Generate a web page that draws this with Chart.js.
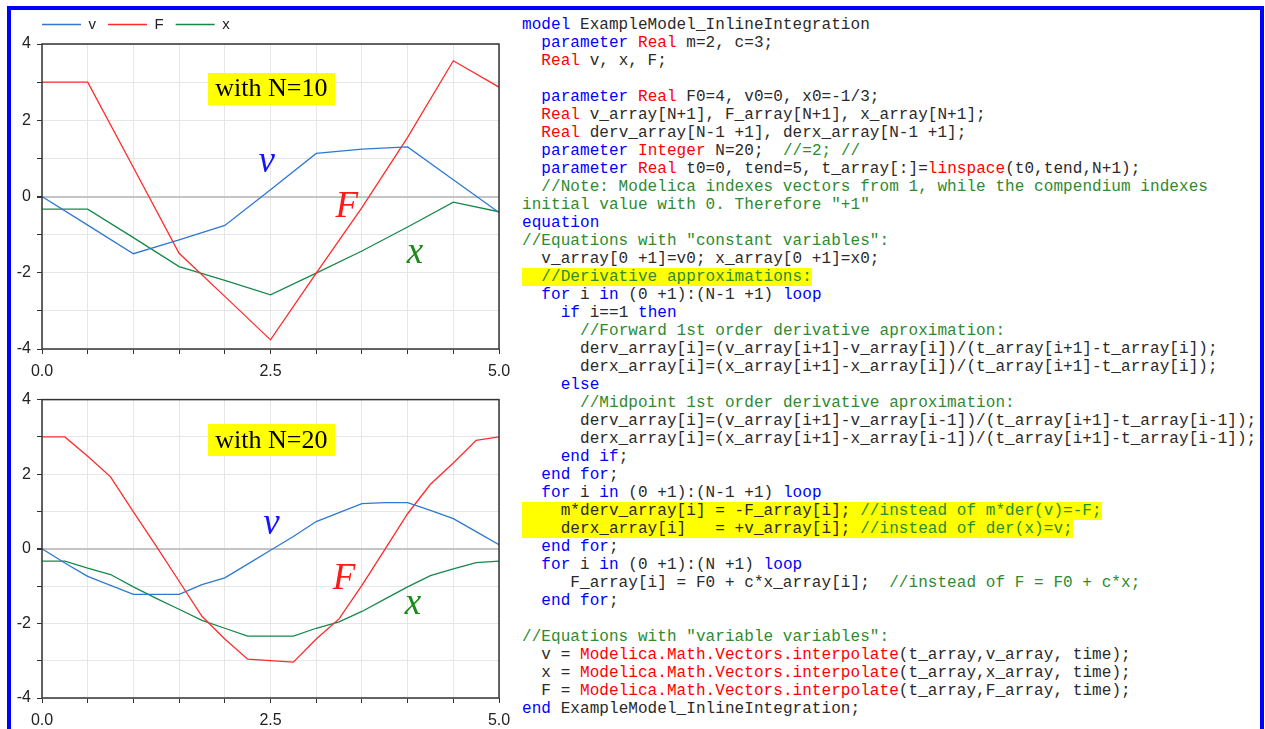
<!DOCTYPE html>
<html>
<head>
<meta charset="utf-8">
<script src="https://cdn.jsdelivr.net/npm/chart.js@4/dist/chart.umd.min.js"></script>
<style>
  html, body { margin: 0; padding: 0; background: #fff; width: 1265px; height: 729px; overflow: hidden; }
  #frame { position: absolute; left: 7px; top: 6px; width: 1257px; height: 760px; box-sizing: border-box;
           border: 4px solid #0000ff; border-bottom: none; z-index: 5; pointer-events: none; }
  #c10 { position: absolute; left: 0; top: 5px; }
  #c20 { position: absolute; left: 0; top: 384px; }
  #code { position: absolute; left: 522px; top: 16px; margin: 0; white-space: pre; letter-spacing: 0.06px;
          font-family: "Liberation Mono", "Courier New", monospace; font-size: 16px; line-height: 18px; color: #2a2a2a; }
  .k { color: #0000ff; }
  .t { color: #ff0000; }
  .c { color: #2e8b2e; }
  .h { background: #ffff00; }
</style>
</head>
<body>
<div id="frame"></div>
<canvas id="c10" width="522" height="374"></canvas>
<canvas id="c20" width="522" height="344"></canvas>
<pre id="code"><span class="k">model</span> ExampleModel_InlineIntegration
  <span class="k">parameter</span> <span class="t">Real</span> m=2, c=3;
  <span class="t">Real</span> v, x, F;

  <span class="k">parameter</span> <span class="t">Real</span> F0=4, v0=0, x0=-1/3;
  <span class="t">Real</span> v_array[N+1], F_array[N+1], x_array[N+1];
  <span class="t">Real</span> derv_array[N-1 +1], derx_array[N-1 +1];
  <span class="k">parameter</span> <span class="t">Integer</span> N=20;  <span class="c">//=2; //</span>
  <span class="k">parameter</span> <span class="t">Real</span> t0=0, tend=5, t_array[:]=<span class="t">linspace</span>(t0,tend,N+1);
  <span class="c">//Note: Modelica indexes vectors from 1, while the compendium indexes</span>
<span class="c">initial value with 0. Therefore "+1"</span>
<span class="k">equation</span>
<span class="c">//Equations with "constant variables":</span>
  v_array[0 +1]=v0; x_array[0 +1]=x0;
<span class="h">  <span class="c">//Derivative approximations:</span></span>
  <span class="k">for</span> i <span class="k">in</span> (0 +1):(N-1 +1) <span class="k">loop</span>
    <span class="k">if</span> i==1 <span class="k">then</span>
      <span class="c">//Forward 1st order derivative aproximation:</span>
      derv_array[i]=(v_array[i+1]-v_array[i])/(t_array[i+1]-t_array[i]);
      derx_array[i]=(x_array[i+1]-x_array[i])/(t_array[i+1]-t_array[i]);
    <span class="k">else</span>
      <span class="c">//Midpoint 1st order derivative aproximation:</span>
      derv_array[i]=(v_array[i+1]-v_array[i-1])/(t_array[i+1]-t_array[i-1]);
      derx_array[i]=(x_array[i+1]-x_array[i-1])/(t_array[i+1]-t_array[i-1]);
    <span class="k">end if</span>;
  <span class="k">end for</span>;
  <span class="k">for</span> i <span class="k">in</span> (0 +1):(N-1 +1) <span class="k">loop</span>
<span class="h">    m*derv_array[i] = -F_array[i]; <span class="c">//instead of m*der(v)=-F;</span></span>
<span class="h">    derx_array[i]   = +v_array[i]; <span class="c">//instead of der(x)=v;</span></span>
  <span class="k">end for</span>;
  <span class="k">for</span> i <span class="k">in</span> (0 +1):(N +1) <span class="k">loop</span>
     F_array[i] = F0 + c*x_array[i];  <span class="c">//instead of F = F0 + c*x;</span>
  <span class="k">end for</span>;

<span class="c">//Equations with "variable variables":</span>
  v = <span class="t">Modelica.Math.Vectors.interpolate</span>(t_array,v_array, time);
  x = <span class="t">Modelica.Math.Vectors.interpolate</span>(t_array,x_array, time);
  F = <span class="t">Modelica.Math.Vectors.interpolate</span>(t_array,F_array, time);
<span class="k">end</span> ExampleModel_InlineIntegration;</pre>
<script>
// Time grid and results with N = 10 intervals
const t10 = [0, 0.5, 1, 1.5, 2, 2.5, 3, 3.5, 4, 4.5, 5];
const v10 = [0, -0.75, -1.50, -1.14, -0.76, 0.18, 1.13, 1.24, 1.30, 0.44, -0.42];
const F10 = [3.0, 3.0, 0.76, -1.49, -2.62, -3.76, -2.01, -0.29, 1.55, 3.56, 2.87];
const x10 = [-0.33, -0.33, -1.08, -1.84, -2.20, -2.58, -2.01, -1.43, -0.80, -0.15, -0.40];

// Time grid and results with N = 20 intervals
const t20 = [0, 0.25, 0.5, 0.75, 1, 1.25, 1.5, 1.75, 2, 2.25, 2.5,
             2.75, 3, 3.25, 3.5, 3.75, 4, 4.25, 4.5, 4.75, 5];
const v20 = [0, -0.38, -0.74, -0.98, -1.22, -1.22, -1.22, -0.96, -0.78, -0.41, -0.04,
             0.33, 0.73, 0.97, 1.21, 1.24, 1.24, 1.03, 0.81, 0.46, 0.11];
const F20 = [3.0, 3.0, 2.48, 1.93, 0.99, 0.07, -0.87, -1.81, -2.42, -2.96, -3.0,
             -3.04, -2.42, -1.88, -0.98, -0.02, 0.94, 1.73, 2.30, 2.91, 3.0];
const x20 = [-0.33, -0.33, -0.52, -0.69, -1.02, -1.33, -1.62, -1.92, -2.13, -2.34, -2.34,
             -2.34, -2.13, -1.96, -1.68, -1.35, -1.02, -0.72, -0.54, -0.37, -0.33];

// Series names and colours, labelled tick values
const seriesNames = ['v', 'F', 'x'];
const seriesColors = ['#2f78d2', '#ff2b2b', '#15894a'];
const xLabelValues = [0, 2.5, 5];
const yLabelValues = [-4, -2, 0, 2, 4];

// Captions and curve names, placed in data coordinates (t, value)
const captions = { n10: { text: 'with N=10', t: 2.51, y: 2.83 }, n20: { text: 'with N=20', t: 2.51, y: 2.92 } };
const curveTags10 = [
  { text: 'v', color: '#1414ff', t: 2.37, y: 0.65 },
  { text: 'F', color: '#ff1a1a', t: 3.21, y: -0.53 },
  { text: 'x', color: '#1a8a1a', t: 3.99, y: -1.74 }
];
const curveTags20 = [
  { text: 'v', color: '#1414ff', t: 2.42, y: 0.39 },
  { text: 'F', color: '#ff1a1a', t: 3.18, y: -1.08 },
  { text: 'x', color: '#1a8a1a', t: 3.97, y: -1.76 }
];

Chart.defaults.font.family = '"Liberation Sans", Arial, sans-serif';
Chart.defaults.color = '#222';

const toPoints = (t, vals) => t.map((ti, i) => ({ x: ti, y: vals[i] }));

function datasets(t, v, F, x) {
  return [v, F, x].map((vals, i) => ({
    label: seriesNames[i],
    data: toPoints(t, vals),
    borderColor: seriesColors[i],
    backgroundColor: seriesColors[i],
    borderWidth: 1.3,
    pointRadius: 0,
    tension: 0
  }));
}

// Box around the plotting area
const frame = {
  id: 'frame',
  afterDatasetsDraw(chart) {
    const { ctx, chartArea: a } = chart;
    ctx.save();
    ctx.strokeStyle = '#333';
    ctx.lineWidth = 1.5;
    ctx.strokeRect(a.left, a.top, a.right - a.left, a.bottom - a.top);
    ctx.restore();
  }
};

// Yellow caption and italic curve names
const notes = {
  id: 'notes',
  afterDatasetsDraw(chart, args, opts) {
    const { ctx } = chart;
    const xs = chart.scales.x, ys = chart.scales.y;
    ctx.save();
    const c = opts.caption;
    ctx.font = '26px "Liberation Serif", serif';
    const w = ctx.measureText(c.text).width + 15;
    const cx = xs.getPixelForValue(c.t), cy = ys.getPixelForValue(c.y);
    ctx.fillStyle = '#ffff00';
    ctx.fillRect(Math.round(cx - w / 2), Math.round(cy - 16), Math.round(w), 32);
    ctx.fillStyle = '#000';
    ctx.textAlign = 'center';
    ctx.textBaseline = 'middle';
    ctx.fillText(c.text, cx, cy + 1);
    ctx.font = 'italic 37px "Liberation Serif", serif';
    ctx.textAlign = 'left';
    ctx.textBaseline = 'alphabetic';
    for (const tag of opts.tags) {
      ctx.fillStyle = tag.color;
      ctx.fillText(tag.text, xs.getPixelForValue(tag.t), ys.getPixelForValue(tag.y));
    }
    ctx.restore();
  }
};

// Legend row spacing, and room for the value labels left of the narrow y axis box
const axisRoom = {
  id: 'axisRoom',
  beforeInit(chart) {
    const lg = chart.legend;
    if (!lg) return;
    const fit = lg.fit;
    lg.fit = function () { fit.call(this); this.height += 2; };
  },
  afterLayout(chart) {
    chart.scales.y.left = 0;
  }
};

function scales() {
  return {
    x: {
      type: 'linear', min: 0, max: 5,
      afterFit: s => { s.height = 30; },
      border: { display: false },
      grid: { color: '#e6e6e6', lineWidth: 1, tickColor: '#333', tickLength: 5 },
      ticks: {
        stepSize: 0.5, autoSkip: false, maxRotation: 0, padding: 8, color: '#222', font: { size: 16 },
        callback: v => xLabelValues.includes(v) ? v.toFixed(1) : ''
      }
    },
    y: {
      min: -4, max: 4,
      afterFit: s => { s.width = 12; },
      border: { display: false },
      grid: {
        color: c => (c.tick && c.tick.value === 0) ? '#c4c4c4' : '#e6e6e6',
        lineWidth: c => (c.tick && c.tick.value === 0) ? 2 : 1,
        tickColor: '#333', tickLength: 5
      },
      ticks: {
        stepSize: 1, autoSkip: false, padding: 6, color: '#222', font: { size: 16 },
        callback: v => yLabelValues.includes(v) ? String(v) : ''
      }
    }
  };
}

function makeChart(id, data, caption, tags, withLegend, padTop) {
  return new Chart(document.getElementById(id), {
    type: 'line',
    data: { datasets: data },
    options: {
      responsive: false,
      animation: false,
      devicePixelRatio: 1,
      layout: { padding: { left: 30, right: 23, top: padTop, bottom: 0 } },
      scales: scales(),
      plugins: {
        tooltip: { enabled: false },
        legend: {
          display: withLegend,
          position: 'top',
          align: 'start',
          labels: { boxWidth: 39, boxHeight: 0, padding: 12, color: '#222', font: { size: 15 } }
        },
        notes: { caption, tags }
      }
    },
    plugins: [frame, notes, axisRoom]
  });
}

makeChart('c10', datasets(t10, v10, F10, x10), captions.n10, curveTags10, true, 0);
makeChart('c20', datasets(t20, v20, F20, x20), captions.n20, curveTags20, false, 10);
</script>
</body>
</html>
